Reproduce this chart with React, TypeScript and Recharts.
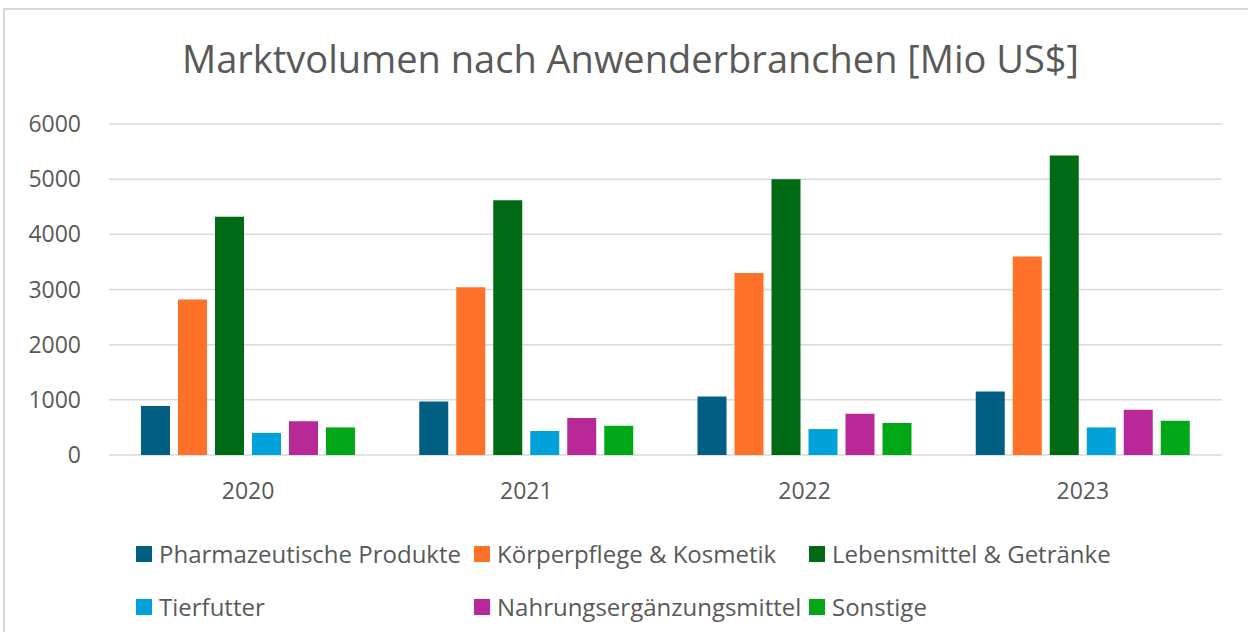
import { Bar, BarChart, CartesianGrid, XAxis, YAxis } from "recharts";

const years = ["2020", "2021", "2022", "2023"];

const pharma = [890, 970, 1060, 1150];
const koerper = [2820, 3040, 3300, 3600];
const lebensmittel = [4320, 4620, 5000, 5430];
const tierfutter = [400, 435, 470, 500];
const nahrung = [610, 670, 750, 820];
const sonstige = [500, 530, 580, 620];

const yTicks = [0, 1000, 2000, 3000, 4000, 5000, 6000];

const series = [
  { key: "pharma", label: "Pharmazeutische Produkte", color: "#005F83", values: pharma },
  { key: "koerper", label: "Körperpflege & Kosmetik", color: "#FF7029", values: koerper },
  { key: "lebensmittel", label: "Lebensmittel & Getränke", color: "#006A15", values: lebensmittel },
  { key: "tierfutter", label: "Tierfutter", color: "#00A2D9", values: tierfutter },
  { key: "nahrung", label: "Nahrungsergänzungsmittel", color: "#B82896", values: nahrung },
  { key: "sonstige", label: "Sonstige", color: "#00A817", values: sonstige },
];

const chartData = years.map((year, i) => {
  const row: Record<string, string | number> = { year };
  series.forEach((s) => {
    row[s.key] = s.values[i];
  });
  return row;
});

const font = "'Open Sans', sans-serif";
const textColor = "#595959";
const colLeft = [0, 338, 673];

export default function App() {
  return (
    <div
      style={{
        position: "absolute",
        left: 3,
        top: 8,
        width: 1243,
        height: 622,
        borderTop: "2px solid #d9d9d9",
        borderLeft: "2px solid #d9d9d9",
        fontFamily: font,
        overflow: "hidden",
      }}
    >
      <div
        style={{
          position: "absolute",
          left: 0,
          top: 30,
          width: 1251,
          textAlign: "center",
          fontSize: 38,
          lineHeight: "37px",
          color: textColor,
          whiteSpace: "nowrap",
        }}
      >
        Marktvolumen nach Anwenderbranchen [Mio US$]
      </div>
      <div style={{ position: "absolute", left: 0, top: 0 }}>
        <BarChart
          data={chartData}
          width={1243}
          height={622}
          margin={{ top: 114, right: 26, bottom: 137, left: 0 }}
          barCategoryGap={32}
          barGap={8}
        >
          <CartesianGrid vertical={false} stroke="#d9d9d9" strokeWidth={1.5} />
          <XAxis
            dataKey="year"
            axisLine={false}
            tickLine={false}
            tickSize={6}
            tickMargin={22}
            height={40}
            tick={{ fill: textColor, fontSize: 23, fontFamily: font }}
          />
          <YAxis
            width={104}
            domain={[0, 6000]}
            ticks={yTicks}
            axisLine={false}
            tickLine={false}
            tickSize={6}
            tickMargin={22}
            tick={{ fill: textColor, fontSize: 23, fontFamily: font }}
          />
          {series.map((s) => (
            <Bar key={s.key} dataKey={s.key} fill={s.color} isAnimationActive={false} />
          ))}
        </BarChart>
      </div>
      {series.map((s, i) => (
        <div
          key={s.key}
          style={{
            position: "absolute",
            left: 131 + colLeft[i % 3],
            top: 517 + Math.floor(i / 3) * 53,
            height: 53,
            display: "flex",
            alignItems: "center",
            whiteSpace: "nowrap",
            fontSize: 24,
            color: textColor,
          }}
        >
          <span
            style={{ display: "inline-block", width: 16, height: 16, background: s.color, marginRight: 7 }}
          />
          {s.label}
        </div>
      ))}
    </div>
  );
}
